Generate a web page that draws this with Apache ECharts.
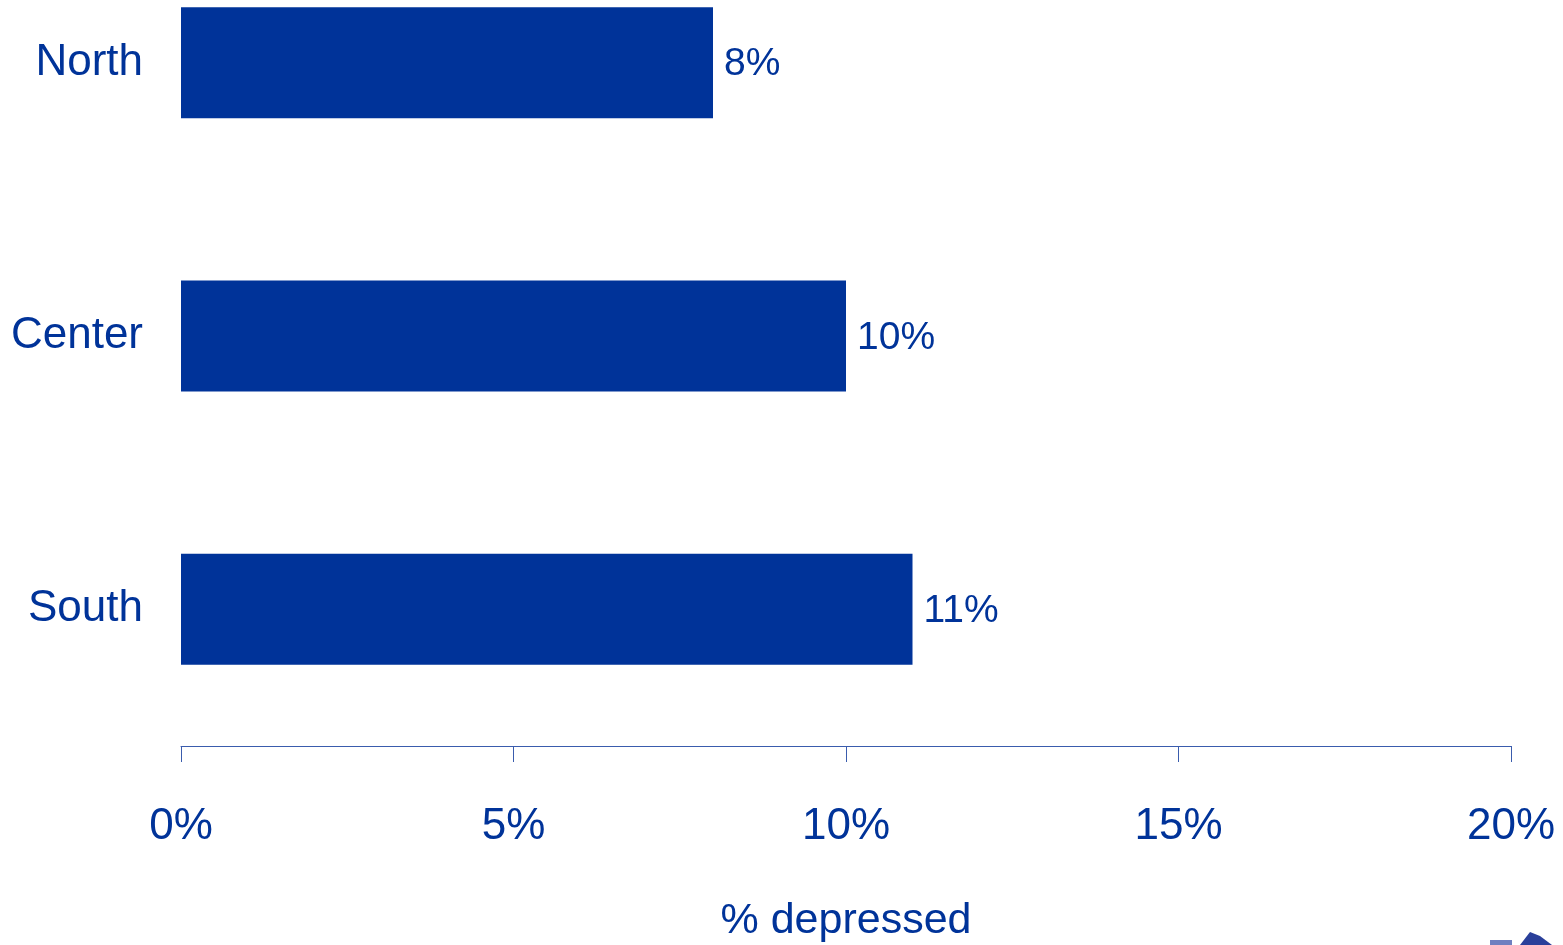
<!DOCTYPE html>
<html>
<head>
<meta charset="utf-8">
<script src="https://cdn.jsdelivr.net/npm/echarts@6/dist/echarts.min.js"></script>
<style>
html,body{margin:0;padding:0;background:#fff;overflow:hidden;}
#wrap{position:relative;width:1563px;height:945px;overflow:hidden;}
#chart{position:absolute;left:0;top:-74px;width:1563px;height:1019px;}
</style>
</head>
<body>
<div id="wrap"><div id="chart"></div></div>
<script>
const categories = ['North', 'Center', 'South'];
const values = [8, 10, 11];
const axisTicks = [0, 5, 10, 15, 20];
const axisTitle = '% depressed';

const blue = '#003399';
const font = '"Liberation Sans", Arial, sans-serif';

const chart = echarts.init(document.getElementById('chart'), null, {renderer: 'canvas'});
chart.setOption({
  animation: false,
  backgroundColor: '#ffffff',
  grid: {left: 181, right: 52, top: 0, height: 820, containLabel: false, outerBoundsMode: 'none'},
  xAxis: {
    type: 'value',
    min: axisTicks[0],
    max: axisTicks[axisTicks.length - 1],
    interval: 5,
    position: 'bottom',
    axisLine: {show: true, lineStyle: {color: '#3a5cad', width: 1}},
    axisTick: {show: true, length: 16, inside: false, lineStyle: {color: '#3a5cad', width: 1}},
    splitLine: {show: false},
    axisLabel: {
      margin: 59,
      color: blue,
      fontFamily: font,
      fontSize: 44,
      formatter: v => v + '%'
    },
    name: axisTitle,
    nameLocation: 'middle',
    nameGap: 154,
    nameTextStyle: {color: blue, fontFamily: font, fontSize: 43}
  },
  yAxis: {
    type: 'category',
    data: categories,
    inverse: true,
    axisLine: {show: false},
    axisTick: {show: false},
    splitLine: {show: false},
    axisLabel: {margin: 38, color: blue, fontFamily: font, fontSize: 44, padding: [4, 0, 0, 0]}
  },
  series: [{
    type: 'bar',
    data: values,
    barWidth: '40.6%',
    itemStyle: {color: blue},
    label: {
      show: true,
      position: 'right',
      distance: 11,
      offset: [0, 2],
      color: blue,
      fontFamily: font,
      fontSize: 39,
      formatter: p => p.value + '%'
    }
  }],
  graphic: [{
    type: 'polygon',
    shape: {points: [[1520, 1019], [1530, 1006], [1540, 1010], [1552, 1019]]},
    style: {fill: '#2a3f9a'}
  }, {
    type: 'rect',
    shape: {x: 1490, y: 1014, width: 22, height: 5},
    style: {fill: '#6f7fc0'}
  }]
});
</script>
</body>
</html>
